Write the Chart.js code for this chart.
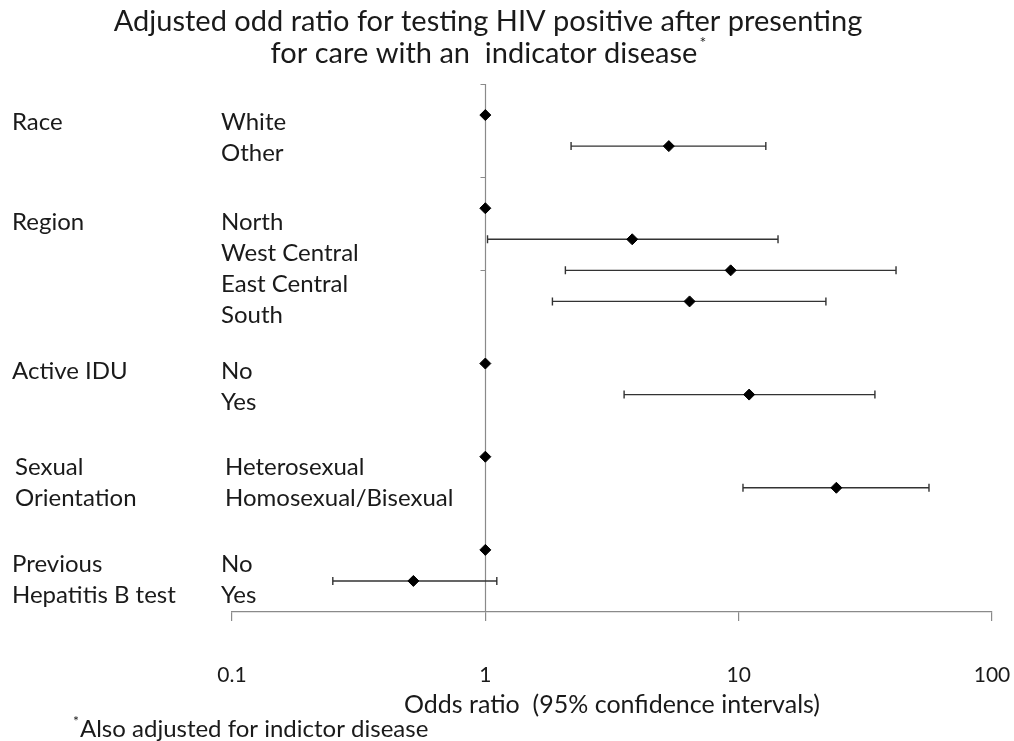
<!DOCTYPE html>
<html>
<head>
<meta charset="utf-8">
<script src="https://cdn.jsdelivr.net/npm/chart.js@4"></script>
<style>
  body { margin: 0; background: #fff; }
  canvas { display: block; }
</style>
</head>
<body>
<canvas id="chart" width="1014" height="741"></canvas>
<script>
// one entry per row of the plot
const rowLabels = ["White", "Other", "North", "West Central", "East Central", "South",
  "No", "Yes", "Heterosexual", "Homosexual/Bisexual", "No", "Yes"];
const rowGroup = [0, 0, 1, 1, 1, 1, 2, 2, 3, 3, 4, 4];
const rowIndex = [0, 1, 3, 4, 5, 6, 8, 9, 11, 12, 14, 15];
const oddsRatio = [1, 5.3, 1, 3.8, 9.3, 6.4, 1, 11.0, 1, 24.3, 1, 0.52];
const ciLow = [null, 2.18, null, 1.02, 2.07, 1.84, null, 3.53, null, 10.4, null, 0.25];
const ciHigh = [null, 12.8, null, 14.3, 41.8, 22.1, null, 34.5, null, 56.4, null, 1.11];

// variable groups on the far left
const groupLabels = [["Race"], ["Region"], ["Active IDU"], ["Sexual", "Orientation"], ["Previous", "Hepatitis B test"]];
const groupRows = [0, 3, 8, 11, 14];

const xTicks = [0.1, 1, 10, 100];
const yTickRows = [-1, 2, 5, 8, 11, 14];

const titleLines = ["Adjusted odd ratio for testing HIV positive after presenting",
  "for care with an  indicator disease"];
const footnote = "Also adjusted for indictor disease";

// text box placement per group (the labels sit in separate text boxes)
const groupTextDy = [7, 14, 8, 11, 14];
const groupTextDx = [0, 0, 0, 3, 0];
const rowTextDx = [0, 0, 0, 4, 0];

const FONT = "Lato, 'Open Sans', sans-serif";
const TEXT = "#1a1a1a";
const AXIS = "#8a8a8a";

const forestPlugin = {
  id: "forest",
  beforeDatasetsDraw(chart) {
    const ctx = chart.ctx;
    const xs = chart.scales.x, ys = chart.scales.y;
    const area = chart.chartArea;
    ctx.save();
    // reference line at OR = 1
    const x1 = Math.round(xs.getPixelForValue(1)) + 0.5;
    ctx.strokeStyle = AXIS;
    ctx.lineWidth = 1.2;
    ctx.beginPath();
    ctx.moveTo(x1, area.top);
    ctx.lineTo(x1, area.bottom);
    yTickRows.forEach(r => {
      const y = Math.round(ys.getPixelForValue(r)) + 0.5;
      ctx.moveTo(x1 - 5, y);
      ctx.lineTo(x1, y);
    });
    ctx.stroke();

    // confidence intervals
    ctx.strokeStyle = "#333";
    ctx.lineWidth = 1.4;
    rowIndex.forEach((r, i) => {
      if (ciLow[i] == null) return;
      const y = ys.getPixelForValue(r);
      const a = xs.getPixelForValue(ciLow[i]);
      const b = xs.getPixelForValue(ciHigh[i]);
      ctx.beginPath();
      ctx.moveTo(a, y); ctx.lineTo(b, y);
      ctx.moveTo(a, y - 4); ctx.lineTo(a, y + 4);
      ctx.moveTo(b, y - 4); ctx.lineTo(b, y + 4);
      ctx.stroke();
    });
    ctx.restore();
  },
  afterDraw(chart) {
    const ctx = chart.ctx;
    const xs = chart.scales.x, ys = chart.scales.y;
    ctx.save();
    ctx.fillStyle = TEXT;
    ctx.textBaseline = "middle";

    // x tick labels
    ctx.font = "21px " + FONT;
    ctx.textAlign = "center";
    xTicks.forEach(v => ctx.fillText(String(v), xs.getPixelForValue(v), 675));

    // title
    ctx.font = "29px " + FONT;
    ctx.fillText(titleLines[0], 488, 22);
    ctx.fillText(titleLines[1], 484, 54);
    const w2 = ctx.measureText(titleLines[1]).width;
    ctx.font = "16px " + FONT;
    ctx.textAlign = "left";
    ctx.fillText("*", 484 + w2 / 2 + 2, 43);

    // row and group labels
    ctx.font = "24px " + FONT;
    rowIndex.forEach((r, i) => {
      const g = rowGroup[i];
      ctx.fillText(rowLabels[i], 221 + rowTextDx[g], ys.getPixelForValue(r) + groupTextDy[g]);
    });
    groupLabels.forEach((lines, g) => {
      lines.forEach((t, k) => {
        ctx.fillText(t, 12 + groupTextDx[g], ys.getPixelForValue(groupRows[g] + k) + groupTextDy[g]);
      });
    });

    // footnote
    ctx.font = "14px " + FONT;
    ctx.fillText("*", 73, 721);
    ctx.font = "24px " + FONT;
    ctx.fillText(footnote, 80, 729);
    ctx.restore();
  }
};

new Chart(document.getElementById("chart"), {
  type: "scatter",
  data: {
    datasets: [{
      label: "Adjusted odds ratio",
      data: rowIndex.map((r, i) => ({ x: oddsRatio[i], y: r })),
      pointStyle: "rectRot",
      pointRadius: 5.5,
      pointHoverRadius: 5.5,
      backgroundColor: "#000",
      borderColor: "#000",
      borderWidth: 1
    }]
  },
  options: {
    responsive: false,
    animation: false,
    layout: { padding: { left: 232, right: 22, top: 84, bottom: 21 } },
    plugins: {
      legend: { display: false },
      tooltip: { enabled: false }
    },
    scales: {
      x: {
        type: "logarithmic",
        min: 0.1,
        max: 100,
        afterBuildTicks: s => { s.ticks = xTicks.map(v => ({ value: v })); },
        ticks: { display: false },
        grid: { drawOnChartArea: false, drawTicks: true, tickLength: 9, color: AXIS, lineWidth: 1.2 },
        border: { color: AXIS, width: 1.2 },
        title: {
          display: true,
          text: "Odds ratio  (95% confidence intervals)",
          font: { family: FONT, size: 25 },
          color: TEXT,
          padding: { top: 69, bottom: 0 }
        }
      },
      y: {
        type: "linear",
        display: false,
        reverse: true,
        min: -1,
        max: 16
      }
    }
  },
  plugins: [forestPlugin]
});
</script>
</body>
</html>
